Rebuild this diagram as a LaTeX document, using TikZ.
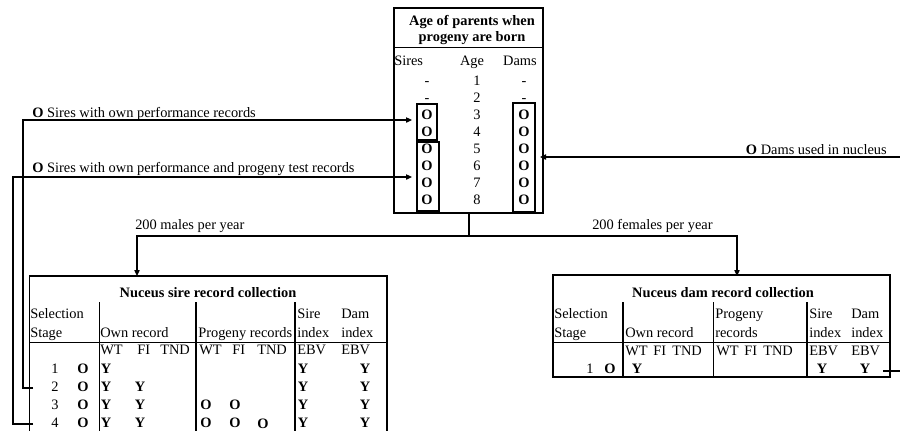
\documentclass[tikz,border=0pt]{standalone}
\usepackage{fontspec}
\setmainfont{Liberation Serif}
\usetikzlibrary{arrows.meta}

\begin{document}
\begin{tikzpicture}[x=0.75pt,y=-0.75pt,font=\fontsize{10.8pt}{13pt}\selectfont,
  every node/.style={inner sep=0pt},
  txt/.style={anchor=base west},
  ctxt/.style={anchor=base},
  lnk/.style={line width=0.9pt},
  arr/.style={lnk, -{Triangle[length=4.5pt,width=4pt]}},
  boxline/.style={line width=1pt},
  rule/.style={line width=0.6pt},
  heavy/.style={line width=2.2pt}]
\useasboundingbox (0,0) rectangle (900,430);
\clip (0,0) rectangle (900,430);

\coordinate (AgeNW) at (394,8);
\coordinate (AgeSE) at (543,213);
\coordinate (AgeBot) at (469,213);
\coordinate (Split) at (469,236);
\coordinate (MaleTurn) at (137,236);
\coordinate (FemTurn) at (737,236);
\coordinate (SireTop) at (137,276);
\coordinate (DamTop) at (737,276);
\coordinate (Stage2) at (33,388);
\coordinate (Bend2a) at (23,388);
\coordinate (Bend2b) at (23,120);
\coordinate (Own34) at (412,120);
\coordinate (Stage4) at (33,424);
\coordinate (Bend4a) at (13,424);
\coordinate (Bend4b) at (13,177);
\coordinate (Own58) at (412,177);
\coordinate (DamsIn) at (900,157);
\coordinate (Dams38) at (540,157);
\coordinate (DamY) at (883,371);
\coordinate (DamOut) at (900,371);

% age table
\draw[heavy] (AgeNW) rectangle (AgeSE);
\draw[rule] (394,47) -- (543,47);
\draw[boxline] (417,104) rectangle (437,140);
\draw[boxline] (417,142) rectangle (439,211);
\draw[boxline] (513,103) rectangle (535,212);

\node[ctxt] (ageT1) at (472,25) {\textbf{Age of parents when}};
\node[ctxt] (ageT2) at (472,41) {\textbf{progeny are born}};
\node[txt] (hSires) at (394,65) {Sires};
\node[ctxt] (hAge) at (472,65) {Age};
\node[ctxt] (hDams) at (520,65) {Dams};
\foreach \k in {1,2} {
  \node[ctxt] (s\k) at (427,{85+(\k-1)*17.14}) {-};
  \node[ctxt] (a\k) at (477,{85+(\k-1)*17.14}) {\k};
  \node[ctxt] (d\k) at (524,{85+(\k-1)*17.14}) {-};
}
\foreach \k in {3,...,8} {
  \node[ctxt] (s\k) at (427,{85+(\k-1)*17.14}) {\textbf{O}};
  \node[ctxt] (a\k) at (477,{85+(\k-1)*17.14}) {\k};
  \node[ctxt] (d\k) at (524,{85+(\k-1)*17.14}) {\textbf{O}};
}

% connectors
\draw[lnk] (AgeBot) -- (Split);
\draw[arr] (Split) -- (MaleTurn) -- (SireTop);
\draw[arr] (Split) -- (FemTurn) -- (DamTop);
\draw[arr] (Stage2) -- (Bend2a) -- (Bend2b) -- (Own34);
\draw[arr] (Stage4) -- (Bend4a) -- (Bend4b) -- (Own58);
\draw[arr] (DamsIn) -- (Dams38);
\draw[lnk] (DamY) -- (DamOut);

\node[txt] (lblOwn) at (32,117) {\textbf{O} Sires with own performance records};
\node[txt] (lblProg) at (32,172) {\textbf{O} Sires with own performance and progeny test records};
\node[anchor=base east] (lblDams) at (887,154) {\textbf{O} Dams used in nucleus};
\node[txt] (lblMales) at (135,229) {200 males per year};
\node[txt] (lblFem) at (592,229) {200 females per year};

% sire record table
\draw[rule] (29,432) -- (29,276);
\draw[line width=1.2pt] (29,276) -- (387,276);
\draw[heavy] (387,275) -- (387,432);
\draw[rule] (29,342) -- (387,342);
\draw[rule] (99,302) -- (99,432);
\draw[heavy] (196,302) -- (196,432);
\draw[heavy] (295,302) -- (295,432);

\node[ctxt] (sireTitle) at (208,297) {\textbf{Nuceus sire record collection}};
\node[txt] (sSel) at (30,318) {Selection};
\node[txt] (sStage) at (30,337) {Stage};
\node[txt] (sOwn) at (100,337) {Own record};
\node[txt] (sProg) at (198,337) {Progeny records};
\node[txt] (sSire) at (297,318) {Sire};
\node[txt] (sSireIx) at (297,337) {index};
\node[txt] (sDam) at (341,318) {Dam};
\node[txt] (sDamIx) at (341,337) {index};
\foreach \x/\t [count=\i] in {100/WT,137/FI,160/TND,199/WT,232/FI,257/TND,297/EBV,341/EBV}
  \node[txt] (sRec\i) at (\x,354) {\t};
\foreach \k in {1,...,4} {
  \node[ctxt] (sNo\k) at (55,{373+(\k-1)*18.3}) {\k};
  \node[ctxt] (sO\k) at (83,{373+(\k-1)*18.3}) {\textbf{O}};
  \node[ctxt] (sWT\k) at (106,{373+(\k-1)*18.3}) {\textbf{Y}};
  \node[ctxt] (sEs\k) at (303,{373+(\k-1)*18.3}) {\textbf{Y}};
  \node[ctxt] (sEd\k) at (365,{373+(\k-1)*18.3}) {\textbf{Y}};
}
\foreach \k in {2,...,4}
  \node[ctxt] (sFI\k) at (140,{373+(\k-1)*18.3}) {\textbf{Y}};
\foreach \k in {3,4} {
  \node[ctxt] (pWT\k) at (206,{373+(\k-1)*18.3}) {\textbf{O}};
  \node[ctxt] (pFI\k) at (235,{373+(\k-1)*18.3}) {\textbf{O}};
}
\node[ctxt] (pTND4) at (263,428) {\textbf{O}};

% dam record table
\draw[boxline] (553,275) rectangle (890,377);
\draw[rule] (553,342) -- (890,342);
\draw[heavy] (623,302) -- (623,377);
\draw[rule] (713,302) -- (713,377);
\draw[heavy] (807,302) -- (807,377);

\node[ctxt] (damTitle) at (723,297) {\textbf{Nuceus dam record collection}};
\node[txt] (dSel) at (554,318) {Selection};
\node[txt] (dStage) at (554,337) {Stage};
\node[txt] (dOwn) at (625,337) {Own record};
\node[txt] (dProg) at (715,318) {Progeny};
\node[txt] (dProgR) at (715,337) {records};
\node[txt] (dSire) at (809,318) {Sire};
\node[txt] (dSireIx) at (809,337) {index};
\node[txt] (dDam) at (851,318) {Dam};
\node[txt] (dDamIx) at (851,337) {index};
\foreach \x/\t [count=\i] in {625/WT,653/FI,672/TND,716/WT,744/FI,763/TND,809/EBV,851/EBV}
  \node[txt] (dRec\i) at (\x,355) {\t};
\node[ctxt] (dNo1) at (590,373) {1};
\node[ctxt] (dO1) at (610,373) {\textbf{O}};
\node[ctxt] (dWT1) at (637,373) {\textbf{Y}};
\node[ctxt] (dEs1) at (822,373) {\textbf{Y}};
\node[ctxt] (dEd1) at (865,373) {\textbf{Y}};
\end{tikzpicture}
\end{document}
